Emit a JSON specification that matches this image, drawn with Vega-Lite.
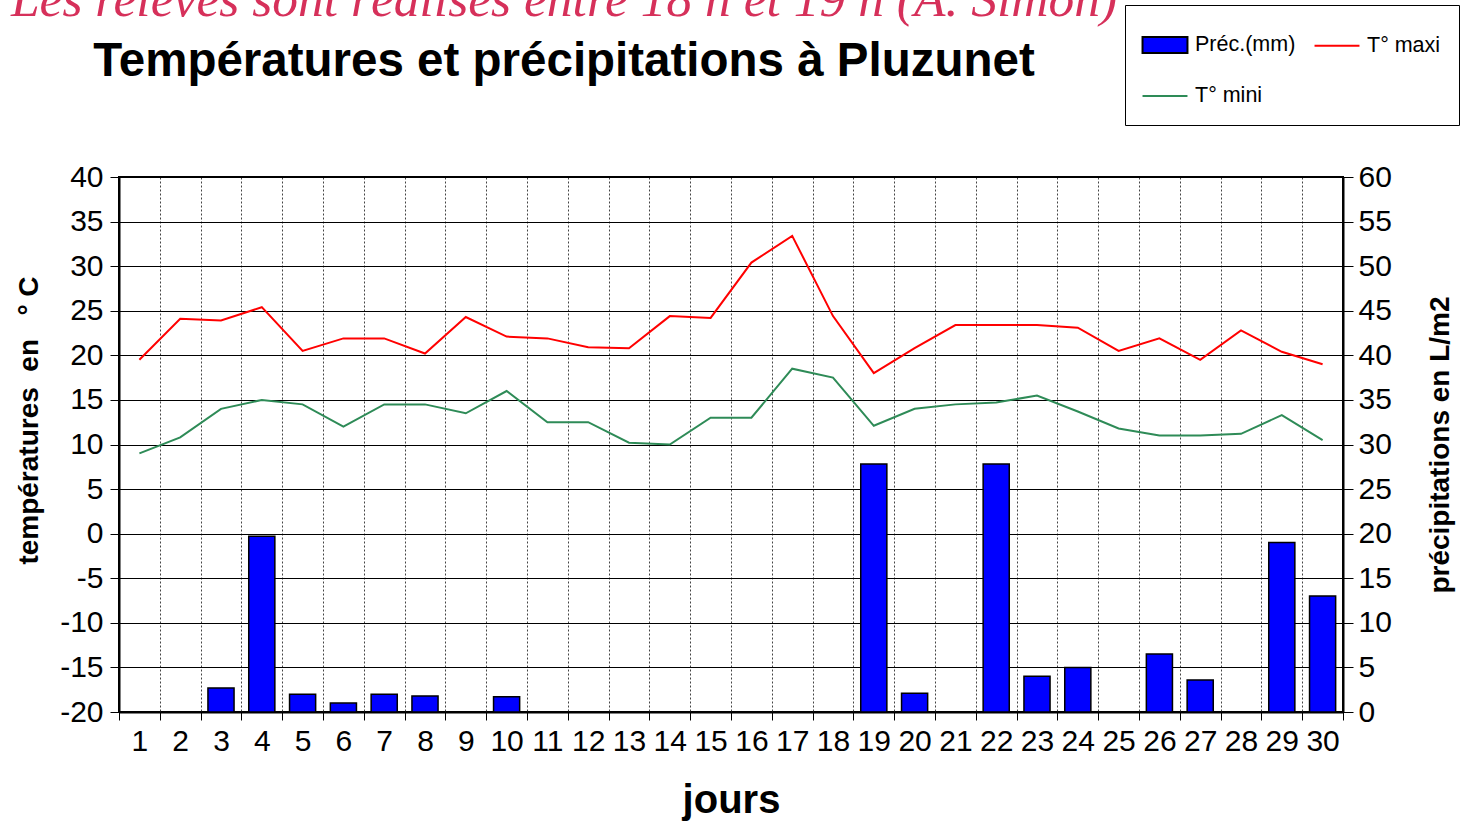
{
  "$schema": "https://vega.github.io/schema/vega-lite/v6.json",
  "autosize": {"type": "none"},
  "padding": {"left": 119, "top": 177, "right": 127, "bottom": 110},
  "width": 1224,
  "height": 535,
  "background": "white",
  "title": {
    "text": "Les relevés sont réalisés entre 18 h et 19 h (A. Simon)",
    "subtitle": "Températures et précipitations à Pluzunet",
    "font": "Liberation Serif",
    "fontStyle": "italic",
    "fontWeight": "normal",
    "fontSize": 51.5,
    "color": "#d6305a",
    "subtitleFont": "Liberation Sans",
    "subtitleFontWeight": "bold",
    "subtitleFontSize": 47.5,
    "subtitleColor": "black",
    "subtitlePadding": 12,
    "offset": 77,
    "dx": -167,
    "dy": 158,
    "anchor": "middle",
    "frame": "group"
  },
  "data": {
    "values": [
      {"jour": 1, "serie": "T° maxi", "valeur": 19.5},
      {"jour": 2, "serie": "T° maxi", "valeur": 24.1},
      {"jour": 3, "serie": "T° maxi", "valeur": 23.9},
      {"jour": 4, "serie": "T° maxi", "valeur": 25.4},
      {"jour": 5, "serie": "T° maxi", "valeur": 20.5},
      {"jour": 6, "serie": "T° maxi", "valeur": 21.9},
      {"jour": 7, "serie": "T° maxi", "valeur": 21.9},
      {"jour": 8, "serie": "T° maxi", "valeur": 20.2},
      {"jour": 9, "serie": "T° maxi", "valeur": 24.3},
      {"jour": 10, "serie": "T° maxi", "valeur": 22.1},
      {"jour": 11, "serie": "T° maxi", "valeur": 21.9},
      {"jour": 12, "serie": "T° maxi", "valeur": 20.9},
      {"jour": 13, "serie": "T° maxi", "valeur": 20.8},
      {"jour": 14, "serie": "T° maxi", "valeur": 24.4},
      {"jour": 15, "serie": "T° maxi", "valeur": 24.2},
      {"jour": 16, "serie": "T° maxi", "valeur": 30.4},
      {"jour": 17, "serie": "T° maxi", "valeur": 33.4},
      {"jour": 18, "serie": "T° maxi", "valeur": 24.4},
      {"jour": 19, "serie": "T° maxi", "valeur": 18.0},
      {"jour": 20, "serie": "T° maxi", "valeur": 20.8},
      {"jour": 21, "serie": "T° maxi", "valeur": 23.4},
      {"jour": 22, "serie": "T° maxi", "valeur": 23.4},
      {"jour": 23, "serie": "T° maxi", "valeur": 23.4},
      {"jour": 24, "serie": "T° maxi", "valeur": 23.1},
      {"jour": 25, "serie": "T° maxi", "valeur": 20.5},
      {"jour": 26, "serie": "T° maxi", "valeur": 21.9},
      {"jour": 27, "serie": "T° maxi", "valeur": 19.5},
      {"jour": 28, "serie": "T° maxi", "valeur": 22.8},
      {"jour": 29, "serie": "T° maxi", "valeur": 20.4},
      {"jour": 30, "serie": "T° maxi", "valeur": 19.0},
      {"jour": 1, "serie": "T° mini", "valeur": 9.0},
      {"jour": 2, "serie": "T° mini", "valeur": 10.8},
      {"jour": 3, "serie": "T° mini", "valeur": 14.0},
      {"jour": 4, "serie": "T° mini", "valeur": 15.0},
      {"jour": 5, "serie": "T° mini", "valeur": 14.5},
      {"jour": 6, "serie": "T° mini", "valeur": 12.0},
      {"jour": 7, "serie": "T° mini", "valeur": 14.5},
      {"jour": 8, "serie": "T° mini", "valeur": 14.5},
      {"jour": 9, "serie": "T° mini", "valeur": 13.5},
      {"jour": 10, "serie": "T° mini", "valeur": 16.0},
      {"jour": 11, "serie": "T° mini", "valeur": 12.5},
      {"jour": 12, "serie": "T° mini", "valeur": 12.5},
      {"jour": 13, "serie": "T° mini", "valeur": 10.2},
      {"jour": 14, "serie": "T° mini", "valeur": 10.0},
      {"jour": 15, "serie": "T° mini", "valeur": 13.0},
      {"jour": 16, "serie": "T° mini", "valeur": 13.0},
      {"jour": 17, "serie": "T° mini", "valeur": 18.5},
      {"jour": 18, "serie": "T° mini", "valeur": 17.5},
      {"jour": 19, "serie": "T° mini", "valeur": 12.1},
      {"jour": 20, "serie": "T° mini", "valeur": 14.0},
      {"jour": 21, "serie": "T° mini", "valeur": 14.5},
      {"jour": 22, "serie": "T° mini", "valeur": 14.7},
      {"jour": 23, "serie": "T° mini", "valeur": 15.5},
      {"jour": 24, "serie": "T° mini", "valeur": 13.7},
      {"jour": 25, "serie": "T° mini", "valeur": 11.8},
      {"jour": 26, "serie": "T° mini", "valeur": 11.0},
      {"jour": 27, "serie": "T° mini", "valeur": 11.0},
      {"jour": 28, "serie": "T° mini", "valeur": 11.2},
      {"jour": 29, "serie": "T° mini", "valeur": 13.3},
      {"jour": 30, "serie": "T° mini", "valeur": 10.5},
      {"jour": 3, "serie": "Préc.(mm)", "valeur": 2.7},
      {"jour": 4, "serie": "Préc.(mm)", "valeur": 19.7},
      {"jour": 5, "serie": "Préc.(mm)", "valeur": 2.0},
      {"jour": 6, "serie": "Préc.(mm)", "valeur": 1.0},
      {"jour": 7, "serie": "Préc.(mm)", "valeur": 2.0},
      {"jour": 8, "serie": "Préc.(mm)", "valeur": 1.8},
      {"jour": 10, "serie": "Préc.(mm)", "valeur": 1.7},
      {"jour": 19, "serie": "Préc.(mm)", "valeur": 27.8},
      {"jour": 20, "serie": "Préc.(mm)", "valeur": 2.1},
      {"jour": 22, "serie": "Préc.(mm)", "valeur": 27.8},
      {"jour": 23, "serie": "Préc.(mm)", "valeur": 4.0},
      {"jour": 24, "serie": "Préc.(mm)", "valeur": 5.0},
      {"jour": 26, "serie": "Préc.(mm)", "valeur": 6.5},
      {"jour": 27, "serie": "Préc.(mm)", "valeur": 3.6},
      {"jour": 29, "serie": "Préc.(mm)", "valeur": 19.0},
      {"jour": 30, "serie": "Préc.(mm)", "valeur": 13.0}
    ]
  },
  "encoding": {
    "x": {
      "field": "jour",
      "type": "ordinal",
      "sort": "ascending",
      "scale": {"type": "band", "paddingInner": 0, "paddingOuter": 0},
      "axis": {
        "title": "jours",
        "titleFont": "Liberation Sans",
        "titleFontSize": 40,
        "titleFontWeight": "bold",
        "titleColor": "black",
        "titlePadding": 24,
        "labelAngle": 0,
        "labelFont": "Liberation Sans",
        "labelFontSize": 30,
        "labelColor": "black",
        "labelPadding": 6,
        "tickBand": "extent",
        "tickSize": 8,
        "tickColor": "black",
        "domainColor": "black",
        "domainWidth": 2,
        "grid": true,
        "gridColor": "#444",
        "gridDash": [2, 2],
        "gridWidth": 1
      }
    }
  },
  "layer": [
    {
      "transform": [{"filter": "datum.serie === 'Préc.(mm)'"}],
      "mark": {"type": "bar", "stroke": "black", "strokeWidth": 1.5, "width": {"band": 0.64}},
      "encoding": {
        "y": {
          "field": "valeur",
          "type": "quantitative",
          "scale": {"domain": [0, 60], "nice": false, "zero": true},
          "axis": {
            "orient": "right",
            "values": [0, 5, 10, 15, 20, 25, 30, 35, 40, 45, 50, 55, 60],
            "grid": false,
            "title": "précipitations en L/m2",
            "titleFont": "Liberation Sans",
            "titleFontSize": 28,
            "titleFontWeight": "bold",
            "titleColor": "black",
            "titleAngle": 270,
            "titlePadding": 63,
            "labelFont": "Liberation Sans",
            "labelFontSize": 30,
            "labelColor": "black",
            "labelPadding": 5,
            "tickSize": 10,
            "tickColor": "black",
            "domainColor": "black",
            "domainWidth": 2
          }
        },
        "color": {
          "field": "serie",
          "type": "nominal",
          "scale": {"domain": ["Préc.(mm)", "T° maxi", "T° mini"], "range": ["#0000ff", "#ff0000", "#2e8b57"]},
          "legend": {
            "orient": "none",
            "legendX": 1006,
            "legendY": -172,
            "title": null,
            "direction": "horizontal",
            "columns": 2,
            "columnPadding": 14,
            "rowPadding": 17,
            "padding": 18,
            "strokeColor": "black",
            "fillColor": "white",
            "labelFont": "Liberation Sans",
            "labelFontSize": 21.5,
            "labelColor": "black",
            "labelOffset": 8,
            "symbolSize": 1764,
            "symbolType": {"expr": "datum.value === 'Préc.(mm)' ? 'M-1.07,-0.38H1.07V0.38H-1.07Z' : 'M-1.07,0H1.07'"},
            "symbolStrokeColor": {"expr": "datum.value === 'Préc.(mm)' ? 'black' : (datum.value === 'T° maxi' ? '#ff0000' : '#2e8b57')"},
            "symbolStrokeWidth": 2
          }
        }
      }
    },
    {
      "transform": [{"filter": "datum.serie !== 'Préc.(mm)'"}],
      "mark": {"type": "line", "strokeWidth": 2},
      "encoding": {
        "y": {
          "field": "valeur",
          "type": "quantitative",
          "scale": {"domain": [-20, 40], "nice": false, "zero": false},
          "axis": {
            "orient": "left",
            "values": [-20, -15, -10, -5, 0, 5, 10, 15, 20, 25, 30, 35, 40],
            "labelExpr": "'' + datum.value",
            "grid": true,
            "gridColor": "black",
            "gridWidth": 1,
            "gridOpacity": 1,
            "title": "températures\u00a0\u00a0en\u00a0\u00a0\u00a0°\u00a0C",
            "titleFont": "Liberation Sans",
            "titleFontSize": 28,
            "titleFontWeight": "bold",
            "titleColor": "black",
            "titlePadding": 16,
            "titleY": 243,
            "labelFont": "Liberation Sans",
            "labelFontSize": 30,
            "labelColor": "black",
            "labelPadding": 7,
            "tickSize": 9,
            "tickColor": "black",
            "domainColor": "black",
            "domainWidth": 2
          }
        },
        "color": {"field": "serie", "type": "nominal", "legend": null}
      }
    }
  ],
  "resolve": {"scale": {"y": "independent"}, "legend": {"color": "independent"}},
  "config": {
    "view": {"stroke": "black", "strokeWidth": 2},
    "font": "Liberation Sans"
  }
}
